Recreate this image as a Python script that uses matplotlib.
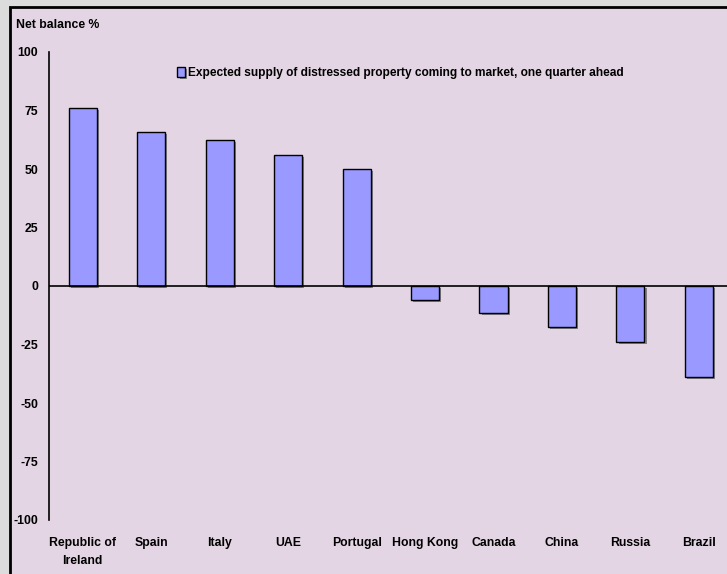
"""Distressed property supply chart."""

import matplotlib
import matplotlib.pyplot as plt
import matplotlib.patheffects as pe
from matplotlib.patches import Rectangle

matplotlib.use("Agg")

# ── Data ──────────────────────────────────────────────────────────────────────

countries = [
    "Republic of\nIreland", "Spain", "Italy", "UAE", "Portugal",
    "Hong Kong", "Canada", "China", "Russia", "Brazil",
]
net_balance = [76, 66, 62.5, 56, 50, -6, -11.5, -17.5, -24, -39]
series_label = "Expected supply of distressed property coming to market, one quarter ahead"
y_ticks = [-100, -75, -50, -25, 0, 25, 50, 75, 100]

# ── Style ─────────────────────────────────────────────────────────────────────

plt.rcParams["font.family"] = ["Liberation Sans Narrow", "Liberation Sans", "DejaVu Sans"]
plt.rcParams["font.weight"] = "bold"

BG = "#e3d5e3"
OUTER = "#dcdcdc"
BAR = "#9999ff"
FS = 8.8

W, H = 727, 574
fig = plt.figure(figsize=(W / 100, H / 100), dpi=100, facecolor=OUTER)

# chart panel with black frame (right/bottom cut off by the crop)
fig.patches.append(
    Rectangle((9.5 / W, -0.1), 1.2, (H - 7.5) / H + 0.1, transform=fig.transFigure,
              facecolor=BG, edgecolor="black", linewidth=2, zorder=-5)
)

ax = fig.add_axes([48.5 / W, (H - 520) / H, 1 - 48.5 / W, (520 - 52) / H])
ax.set_facecolor("none")
ax.set_zorder(2)

x = list(range(len(countries)))
ax.bar(
    x, net_balance, width=0.41, color=BAR, edgecolor="black", linewidth=1.0, zorder=3,
    path_effects=[pe.SimplePatchShadow(offset=(1.5, -1.5), shadow_rgbFace="#444444", alpha=0.6),
                  pe.Normal()],
    label=series_label,
)
ax.axhline(0, color="black", linewidth=1.2, zorder=4)

ax.set_xlim(-0.5, 9.41)
ax.set_ylim(-100, 100)
ax.set_yticks(y_ticks)
ax.set_yticklabels([str(v) for v in y_ticks], fontsize=FS, fontweight="bold")
ax.set_xticks(x)
ax.set_xticklabels(countries, fontsize=FS, fontweight="bold", linespacing=1.75)
ax.tick_params(axis="y", length=0, pad=7.5)
ax.tick_params(axis="x", length=0, pad=12)
for side in ["top", "right", "bottom"]:
    ax.spines[side].set_visible(False)
ax.spines["left"].set_linewidth(1.2)

fig.text(16 / W, (H - 25) / H, "Net balance %", fontsize=FS, fontweight="bold",
         ha="left", va="center", zorder=5)

leg = ax.legend(
    loc="center", bbox_to_anchor=(0.519, 0.955), frameon=False, fontsize=8.6,
    handlelength=0.6, handleheight=0.9, handletextpad=0.3,
)
for t in leg.get_texts():
    t.set_fontweight("bold")

fig.savefig("out.png", dpi=100, facecolor=OUTER)
plt.close(fig)
